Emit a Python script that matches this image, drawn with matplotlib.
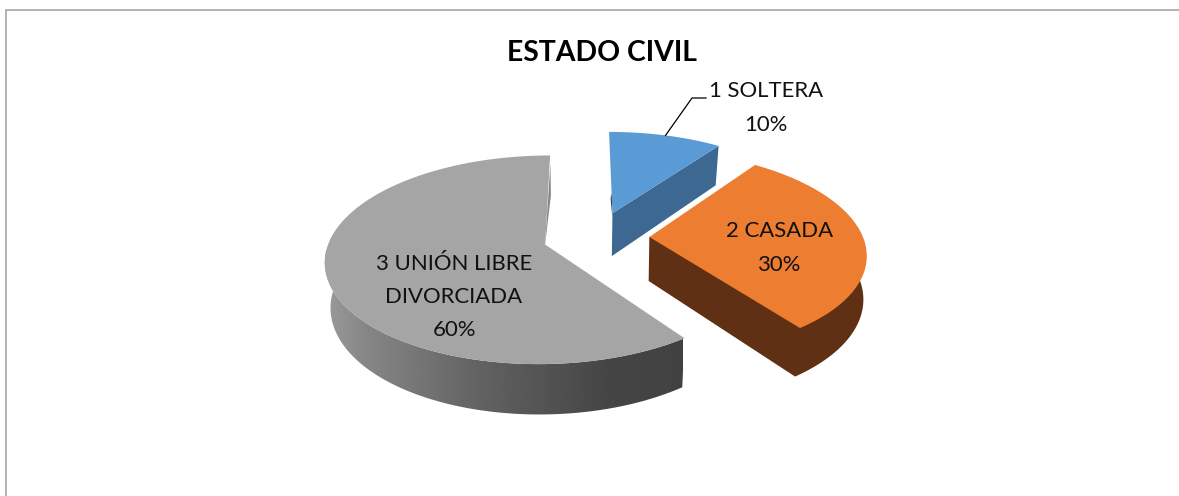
import numpy as np
import matplotlib
matplotlib.use("Agg")
import matplotlib.pyplot as plt
from matplotlib.patches import Polygon

# data
categories = ["1 SOLTERA", "2 CASADA", "3 UNIÓN LIBRE\nDIVORCIADA"]
shares = [10, 30, 60]
percent_labels = ["10%", "30%", "60%"]
title = "ESTADO CIVIL"

# style / projection
W, H = 1179, 496
CX, CY, A, B, K = 584.6, 237.0, 213.6, 99.4, 0.144
offsets = [(0.135, 0.247), (0.303, 0.0), (-0.183, -0.075)]
radii = [1.0, 1.0, 1.005]
top_colors = ["#5b9bd5", "#ed7d31", "#a5a5a5"]
side_colors = ["#3c6892", "#5f3013", None]
label_pos = [(766, 108), (780, 248), (454, 297)]
FONT = "Lato"


def project(u, v):
    w = 1 + K * v
    return CX + A * u / w, CY - B * v / w


def drop(x, y, sx=0.978, lean=0.0):
    return (CX + sx * (x - CX) - lean * np.maximum(y - CY, 0),
            CY + 44 + 1.05 * (y - CY))


def arc(t0, t1, off, r=1.0, n=120):
    t = np.radians(np.linspace(t0, t1, n))
    return project(r * np.sin(t) + off[0], r * np.cos(t) + off[1])


def apex(off):
    return project(off[0], off[1])


fig = plt.figure(figsize=(W / 100, H / 100), dpi=100, facecolor="white")
ax = fig.add_axes([0, 0, 1, 1])
ax.set_xlim(0, W)
ax.set_ylim(H, 0)
ax.axis("off")

edges = np.concatenate([[0], np.cumsum(shares)]) / sum(shares) * 360

# frame (top and left only reach the image)
ax.plot([5.5, 5.5, W], [H, 9.5, 9.5], color="#a6a6a6", lw=1.2, solid_joinstyle="miter")

# blue slice
t0, t1 = edges[0], edges[1]
off = offsets[0]
ax0, ay0 = apex(off)
xs, ys = arc(t0, t1, off, radii[0])
bx0, by0 = drop(ax0, ay0)
bxs, bys = drop(xs, ys)
sx = xs[0] + 0.75 * (ax0 - xs[0])
sy = ys[0] + 0.75 * (ay0 - ys[0])
ax.add_patch(Polygon([(sx, sy), (ax0, ay0), (ax0 - 0.2, ay0 + 3), (sx - 1.0, sy + 5)],
                     closed=True, fc="#1f2f40", ec="none", zorder=2))
ax.add_patch(Polygon([(ax0, ay0), (xs[-1], ys[-1]), (bxs[-1], bys[-1]), (bx0, by0)],
                     closed=True, fc=side_colors[0], ec="none", zorder=2))
ax.add_patch(Polygon(np.r_[[[ax0, ay0]], np.c_[xs, ys]], closed=True, fc=top_colors[0], ec="none", zorder=3))

# orange slice
t0, t1 = edges[1], edges[2]
off = offsets[1]
ax0, ay0 = apex(off)
xs, ys = arc(t0, t1, off, radii[1])
bx0, by0 = drop(ax0, ay0, sx=0.99, lean=0.03)
bxs, bys = drop(xs, ys, sx=0.99, lean=0.03)
vis = np.linspace(t0, t1, 120) >= 85
ax.add_patch(Polygon(np.r_[[[ax0, ay0], [bx0, by0]],
                           np.c_[bxs[vis], bys[vis]][::-1],
                           [[xs[vis][0], ys[vis][0]]]],
                     closed=True, fc=side_colors[1], ec="none", zorder=2))
ax.add_patch(Polygon(np.r_[[[ax0, ay0]], np.c_[xs, ys]], closed=True, fc=top_colors[1], ec="none", zorder=3))

# gray slice
t0, t1 = edges[2], edges[3]
off = offsets[2]
ax0, ay0 = apex(off)
xs, ys = arc(t0, t1, off, radii[2])
bxs, bys = drop(xs, ys)
ang = np.linspace(t0, t1, 120)
vis = ang <= 285
side = Polygon(np.r_[np.c_[xs[vis], ys[vis]], np.c_[bxs[vis], bys[vis]][::-1]],
               closed=True, fc="none", ec="none", zorder=2)
ax.add_patch(side)
grad_x = np.array([0.0, 0.12, 0.45, 0.80, 1.0])
grad_v = np.array([0.62, 0.53, 0.38, 0.27, 0.26])
g = np.interp(np.linspace(0, 1, 512), grad_x, grad_v).reshape(1, -1)
im = ax.imshow(g, cmap="gray", vmin=0, vmax=1, extent=[320, 683, 420, 250], aspect="auto", zorder=2,
               interpolation="bilinear")
im.set_clip_path(side)
ax.set_xlim(0, W)
ax.set_ylim(H, 0)
# inner radial sliver at the top of the gap
bcx, bcy = drop(xs[-1], ys[-1])
ax.add_patch(Polygon([(xs[-1] + 0.3, ys[-1] + 8), (bcx, bcy), (ax0, ay0)],
                     closed=True, fc="#858585", ec="none", zorder=2))
ax.add_patch(Polygon(np.r_[[[ax0, ay0]], np.c_[xs, ys]], closed=True, fc=top_colors[2], ec="none", zorder=3))

# leader line for first label
t_mid = np.radians(edges[0] + 0.5 * (edges[1] - edges[0]))
lx, ly = project(np.sin(t_mid) + offsets[0][0], np.cos(t_mid) + offsets[0][1])
ax.plot([lx, 692, 706], [ly, 98, 98], color="black", lw=0.9, zorder=4)

# text
ax.text(602, 53, title, ha="center", va="center", fontsize=20.4, fontweight="bold", family=FONT, color="black")
for cat, pct, (px, py) in zip(categories, percent_labels, label_pos):
    ax.text(px, py, f"{cat}\n{pct}", ha="center", va="center", fontsize=15.9, family=FONT,
            color="#111111", linespacing=1.82, zorder=5)

fig.savefig("out.png", dpi=100, facecolor="white")
